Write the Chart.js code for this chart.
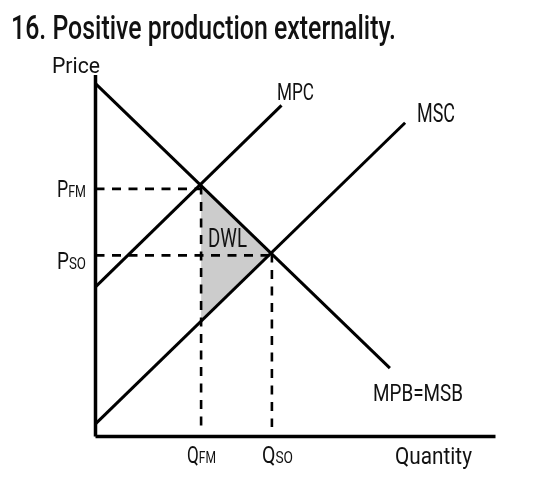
<!DOCTYPE html>
<html>
<head>
<meta charset="utf-8">
<script src="https://cdn.jsdelivr.net/npm/chart.js@4"></script>
<style>
  html, body { margin: 0; padding: 0; background: #ffffff; }
  #wrap { width: 534px; height: 490px; position: relative; }
</style>
</head>
<body>
<div id="wrap"><canvas id="c" width="534" height="490"></canvas></div>
<script>
// ---- data (in chart units: quantity 0..100, price 0..100) ----
const demandCurve = [{x: 0, y: 97.6}, {x: 73.6, y: 18.9}];   // MPB=MSB
const mpcCurve    = [{x: 0, y: 41.4}, {x: 46.5, y: 91.6}];   // MPC
const mscCurve    = [{x: 0, y: 3.5},  {x: 77.4, y: 86.8}];   // MSC
const qFM = 26.4, pFM = 69.4;   // free-market equilibrium
const qSO = 44.1, pSO = 50.6;   // social optimum
const pFMGuide = 68.5, pSOGuide = 50.1, guideBottom = 2.6;
const dwlTriangle = [{x: qFM, y: pFM}, {x: qSO, y: pSO}, {x: qFM, y: 31.9}, {x: qFM, y: pFM}];
const xAxisLine = [{x: 0, y: 0}, {x: 100, y: 0}];
const yAxisLine = [{x: 0, y: 0}, {x: 0, y: 100}];
const titleText = '16. Positive production externality.';
const curveLabels = ['MPC', 'MSC', 'MPB=MSB', 'DWL'];
const axisTitles = ['Price', 'Quantity'];
const tickLabels = [['P', 'FM'], ['P', 'SO'], ['Q', 'FM'], ['Q', 'SO']];

const INK = '#111111';
const FONT = 'Roboto, "Noto Sans", sans-serif';

function fitText(ctx, parts, x, y, w) {
  // parts: [{t, size, weight}], drawn on a common baseline, squeezed to width w
  let total = 0;
  parts.forEach(p => {
    ctx.font = `${p.weight || 500} ${p.size}px ${FONT}`;
    p.m = ctx.measureText(p.t).width;
    total += p.m;
  });
  const sx = w / total;
  ctx.save();
  ctx.translate(x, y);
  ctx.scale(sx, 1);
  ctx.fillStyle = INK;
  ctx.textBaseline = 'alphabetic';
  ctx.textAlign = 'left';
  let cx = 0;
  parts.forEach(p => {
    ctx.font = `${p.weight || 500} ${p.size}px ${FONT}`;
    ctx.fillText(p.t, cx, 0);
    cx += p.m;
  });
  ctx.restore();
}

const textPlugin = {
  id: 'econText',
  afterDraw(chart) {
    const ctx = chart.ctx;
    fitText(ctx, [{t: titleText, size: 33, weight: 500}], 11, 39, 385);
    fitText(ctx, [{t: axisTitles[0], size: 22, weight: 400}], 52, 73, 48);
    fitText(ctx, [{t: axisTitles[1], size: 24, weight: 400}], 395, 463.5, 77);
    fitText(ctx, [{t: curveLabels[0], size: 24.5, weight: 400}], 277, 99.5, 37);
    fitText(ctx, [{t: curveLabels[1], size: 26, weight: 400}], 417, 121.5, 38);
    fitText(ctx, [{t: curveLabels[2], size: 24.5, weight: 400}], 373, 400.5, 90);
    fitText(ctx, [{t: curveLabels[3], size: 25.5, weight: 400}], 208, 246.5, 39);
    fitText(ctx, [{t: tickLabels[0][0], size: 23.5, weight: 400}, {t: tickLabels[0][1], size: 16.5, weight: 400}], 57, 197, 29);
    fitText(ctx, [{t: tickLabels[1][0], size: 23.5, weight: 400}, {t: tickLabels[1][1], size: 16.5, weight: 400}], 57, 269, 29);
    fitText(ctx, [{t: tickLabels[2][0], size: 23.5, weight: 400}, {t: tickLabels[2][1], size: 16.5, weight: 400}], 187, 463, 29);
    fitText(ctx, [{t: tickLabels[3][0], size: 23.5, weight: 400}, {t: tickLabels[3][1], size: 16.5, weight: 400}], 262, 463, 31);
  }
};

const solid = (data, order, width) => ({
  data, showLine: true, pointRadius: 0, borderColor: '#000000', borderWidth: width || 3,
  fill: false, clip: false, order, borderCapStyle: 'butt', tension: 0
});
const dashed = (data) => ({
  data, showLine: true, pointRadius: 0, borderColor: '#000000', borderWidth: 2.6,
  borderDash: [9, 7.5], fill: false, clip: false, order: 5, tension: 0
});

new Chart(document.getElementById('c'), {
  type: 'scatter',
  data: {
    datasets: [
      {
        data: dwlTriangle, showLine: true, pointRadius: 0, borderWidth: 0,
        borderColor: 'rgba(0,0,0,0)', backgroundColor: '#cccccc', fill: 'shape',
        clip: false, order: 10, tension: 0
      },
      dashed([{x: 0, y: pFMGuide}, {x: qFM, y: pFMGuide}]),
      dashed([{x: 0, y: pSOGuide}, {x: qSO, y: pSOGuide}]),
      dashed([{x: qFM, y: pFM}, {x: qFM, y: guideBottom}]),
      dashed([{x: qSO, y: pSO}, {x: qSO, y: guideBottom}]),
      solid(demandCurve, 2),
      solid(mpcCurve, 2),
      solid(mscCurve, 2),
      solid(xAxisLine, 1, 3.5),
      solid(yAxisLine, 1, 3.5)
    ]
  },
  options: {
    responsive: false,
    animation: false,
    devicePixelRatio: 1,
    layout: { padding: { left: 95.5, right: 38.5, top: 75, bottom: 53.5 } },
    plugins: { legend: { display: false }, tooltip: { enabled: false }, title: { display: false } },
    scales: {
      x: { type: 'linear', min: 0, max: 100, display: false },
      y: { type: 'linear', min: 0, max: 100, display: false }
    }
  },
  plugins: [textPlugin]
});
</script>
</body>
</html>
